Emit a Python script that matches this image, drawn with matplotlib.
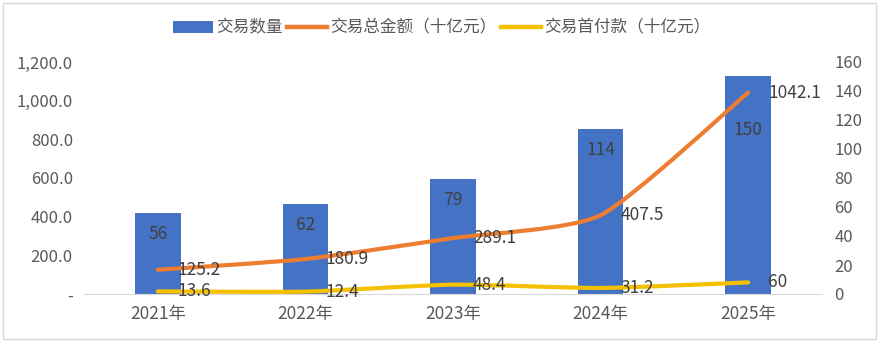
import matplotlib
matplotlib.use("Agg")
import matplotlib.pyplot as plt
from matplotlib.path import Path
from matplotlib.patches import PathPatch, Rectangle, Patch
from matplotlib.lines import Line2D
from matplotlib.ticker import FuncFormatter
import numpy as np

plt.rcParams['font.family'] = ['Noto Sans CJK SC', 'DejaVu Sans']

categories = ['2021年', '2022年', '2023年', '2024年', '2025年']
deal_count = [56, 62, 79, 114, 150]
total_value = [125.2, 180.9, 289.1, 407.5, 1042.1]
upfront = [13.6, 12.4, 48.4, 31.2, 60]

labels_series = ['交易数量', '交易总金额（十亿元）', '交易首付款（十亿元）']
c_bar = '#4472C4'
c_total = '#ED7D31'
c_up = '#F5C000'
txt = '#404040'
tick_c = '#595959'

fig = plt.figure(figsize=(8.79, 3.43), dpi=100)
ax = fig.add_axes([84/879, 1-294/343, (822-84)/879, (294-62)/343])
ax2 = ax.twinx()
ax.set_zorder(ax2.get_zorder() + 1)
ax.patch.set_visible(False)

x = np.arange(len(categories))
bars = ax2.bar(x, deal_count, width=0.31, color=c_bar, zorder=2)
bar_label_offsets = [-21, -21, -21, -21, -54]
for i, v in enumerate(deal_count):
    ax2.annotate(str(v), (x[i], v), xytext=(0, bar_label_offsets[i]), textcoords='offset pixels',
                 ha='center', va='center', fontsize=12.5, color=txt)

def smooth_path(xs, ys, k=10.0):
    pts = np.column_stack([xs, ys]).astype(float)
    n = len(pts)
    verts = [pts[0]]
    codes = [Path.MOVETO]
    for i in range(n - 1):
        p0 = pts[i - 1] if i > 0 else pts[i]
        p1 = pts[i]
        p2 = pts[i + 1]
        p3 = pts[i + 2] if i + 2 < n else pts[i + 1]
        c1 = p1 + (p2 - p0) / k
        c2 = p2 - (p3 - p1) / k
        verts += [c1, c2, p2]
        codes += [Path.CURVE4] * 3
    return Path(verts, codes)

for ys, col in [(total_value, c_total), (upfront, c_up)]:
    patch = PathPatch(smooth_path(x, ys), fill=False, edgecolor=col, lw=3.0,
                      capstyle='round', joinstyle='round', zorder=3)
    ax.add_patch(patch)
    for i, v in enumerate(ys):
        lab = ('%g' % v) if v == int(v) else ('%.1f' % v)
        ax.annotate(lab, (x[i], v), xytext=(20, 0), textcoords='offset pixels',
                    ha='left', va='center', fontsize=12.5, color=txt, zorder=4)

ax.set_xlim(-0.5, 4.5)
ax.set_ylim(0, 1200)
ax2.set_ylim(0, 160)
ax.set_yticks(np.arange(0, 1201, 200))
ax2.set_yticks(np.arange(0, 161, 20))
ax.yaxis.set_major_formatter(FuncFormatter(lambda v, p: '-' if v == 0 else f'{v:,.1f}'))
ax.set_xticks(x)
ax.set_xticklabels(categories)

for a in (ax, ax2):
    for s in ['top', 'left', 'right']:
        a.spines[s].set_visible(False)
    a.spines['bottom'].set_color('#D9D9D9')
    a.tick_params(length=0, labelsize=12, labelcolor=tick_c)
ax2.spines['bottom'].set_visible(False)
ax.tick_params(axis='x', pad=8, labelsize=12.5)
ax.tick_params(axis='y', pad=8)
ax2.tick_params(axis='y', pad=9)

handles = [Patch(facecolor=c_bar, edgecolor='none'),
           Line2D([], [], color=c_total, lw=3.2),
           Line2D([], [], color=c_up, lw=3.2)]
fig.legend(handles, labels_series, loc='center', bbox_to_anchor=(442/879, 1-28/343),
           ncol=3, frameon=False, fontsize=12, labelcolor=tick_c,
           handlelength=2.4, handleheight=0.75, columnspacing=0.25, handletextpad=0.2)

fig.add_artist(Rectangle((3/879, 4/343), 873/879, 336/343, transform=fig.transFigure,
                         fill=False, edgecolor='#D9D9D9', lw=1))

fig.savefig('out.png', dpi=100)
